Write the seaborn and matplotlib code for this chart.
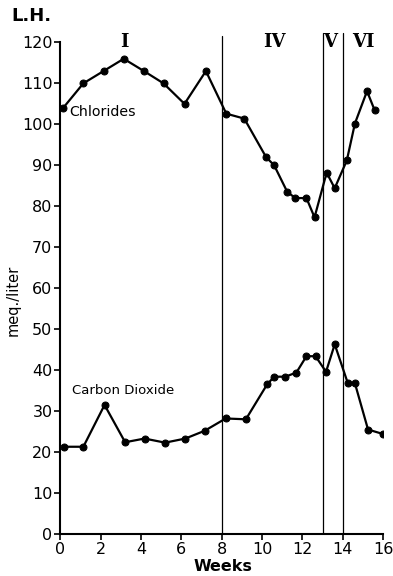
import matplotlib
matplotlib.use("Agg")
import matplotlib.pyplot as plt
import seaborn as sns
import pandas as pd

# Chlorides (meq/liter) by week
cl_weeks = [0.15, 1.15, 2.15, 3.15, 4.15, 5.12, 6.16, 7.22, 8.23, 9.12, 10.2, 10.6,
            11.25, 11.65, 12.2, 12.6, 13.2, 13.6, 14.2, 14.6, 15.2, 15.58]
cl_vals = [104, 110, 113, 116, 113, 110, 105, 113, 102.6, 101.4, 92, 90,
           83.5, 82, 82, 77.3, 88.2, 84.4, 91.2, 100.2, 108.1, 103.4]

# Carbon dioxide (meq/liter) by week
co2_weeks = [0.2, 1.15, 2.2, 3.22, 4.18, 5.2, 6.2, 7.16, 8.2, 9.2, 10.25, 10.6,
             11.15, 11.7, 12.2, 12.65, 13.17, 13.6, 14.25, 14.6, 15.25, 16.0]
co2_vals = [21.3, 21.3, 31.5, 22.4, 23.3, 22.3, 23.3, 25.2, 28.2, 28.0, 36.5, 38.4,
            38.4, 39.4, 43.4, 43.4, 39.6, 46.3, 36.8, 36.8, 25.5, 24.4]

# Phase boundaries and labels
phase_lines = [8, 13, 14]
phase_tops = [121.5, 122.4, 122.4]
phase_labels = ["I", "IV", "V", "VI"]
phase_label_x = [3.2, 10.6, 13.35, 15.0]

x_ticks = [0, 2, 4, 6, 8, 10, 12, 14, 16]
y_ticks = [0, 10, 20, 30, 40, 50, 60, 70, 80, 90, 100, 110, 120]

sns.set_style("ticks")
plt.rcParams["font.family"] = ["DejaVu Sans"]
plt.rcParams["text.color"] = "black"
plt.rcParams["xtick.color"] = "black"
plt.rcParams["ytick.color"] = "black"
plt.rcParams["axes.edgecolor"] = "black"

fig = plt.figure(figsize=(3.93, 5.76), dpi=100)
ax = fig.add_axes([0.153, 0.0729, 0.822, 0.872])

df_cl = pd.DataFrame({"week": cl_weeks, "val": cl_vals})
df_co2 = pd.DataFrame({"week": co2_weeks, "val": co2_vals})

for d in (df_cl, df_co2):
    sns.lineplot(data=d, x="week", y="val", ax=ax, color="black", linewidth=1.6,
                 marker="o", markersize=5, markeredgecolor="black", sort=False)

for xv, top in zip(phase_lines, phase_tops):
    ax.plot([xv, xv], [0, top], color="black", linewidth=0.9)

for lab, xv in zip(phase_labels, phase_label_x):
    ax.text(xv, 120, lab, ha="center", va="center", fontsize=13,
            fontweight="bold", family="DejaVu Serif")

ax.text(2.08, 103, "Chlorides", ha="center", va="center", fontsize=10.2)
ax.text(3.1, 35, "Carbon Dioxide", ha="center", va="center", fontsize=9.5)

ax.set_xlim(0, 16)
ax.set_ylim(0, 122.6)
ax.set_xticks(x_ticks)
ax.set_yticks(y_ticks)
ax.tick_params(axis="both", labelsize=11.5, length=4, width=1.2, direction="out", pad=1.5)
for s in ("top", "right"):
    ax.spines[s].set_visible(False)
ax.spines["left"].set_bounds(0, 120)
ax.spines["left"].set_linewidth(1.5)
ax.spines["bottom"].set_linewidth(1.5)
ax.set_xlabel("")
ax.set_ylabel("")

fig.text(0.567, 0.016, "Weeks", fontsize=11.5, fontweight="bold", ha="center", va="center")
fig.text(0.033, 0.479, "meq./liter", fontsize=10.5, rotation=90, ha="center", va="center")
fig.text(0.03, 0.972, "L.H.", fontsize=13, fontweight="bold", ha="left", va="center")

fig.savefig("out.png", dpi=100)
